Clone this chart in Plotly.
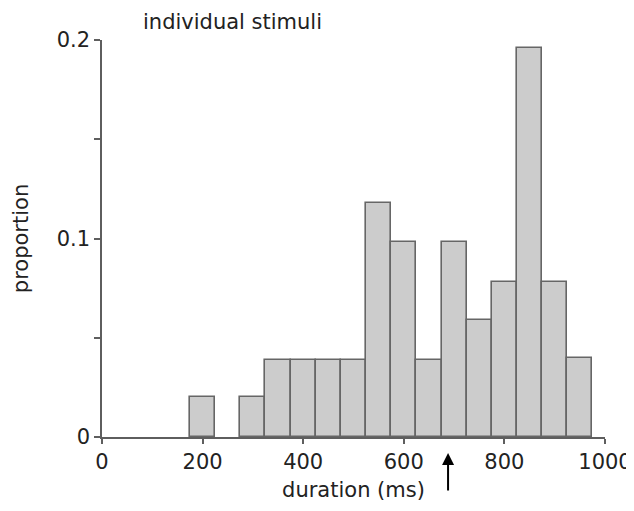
import plotly.graph_objects as go

# Histogram of durations (bin centres, ms) and proportions
bin_centers = [200, 300, 350, 400, 450, 500, 550, 600, 650, 700, 750, 800, 850, 900, 950]
proportions = [0.020, 0.020, 0.039, 0.039, 0.039, 0.039, 0.118, 0.098, 0.039,
               0.098, 0.059, 0.078, 0.196, 0.078, 0.040]
bin_width = 50
mean_marker = 688

x_ticks = [0, 200, 400, 600, 800, 1000]
y_ticks = [0, 0.05, 0.1, 0.15, 0.2]
y_tick_text = ["0", "", "0.1", "", "0.2"]

FONT = "DejaVu Sans, Liberation Sans, Arial, sans-serif"
TXT = "#222222"
AX = "#5e5e5e"
FS = 21

fig = go.Figure()
fig.add_trace(go.Bar(
    x=bin_centers, y=proportions, width=bin_width,
    marker=dict(color="#cccccc", line=dict(color="#666666", width=1.6)),
    showlegend=False, hoverinfo="x+y",
))

fig.update_layout(
    width=626, height=503,
    margin=dict(l=94, r=29, t=32, b=74),
    paper_bgcolor="white", plot_bgcolor="white",
    font=dict(family=FONT, size=FS, color=TXT),
    bargap=0,
    xaxis=dict(
        range=[0, 1000], tickvals=x_ticks, ticks="outside", ticklen=5, tickwidth=1.5,
        tickcolor=AX, showline=True, linecolor=AX, linewidth=1.5,
        showgrid=False, zeroline=False, automargin=False,
        title=dict(text="duration (ms)", standoff=9, font=dict(size=FS)),
        tickfont=dict(size=FS),
    ),
    yaxis=dict(
        range=[0, 0.2], tickvals=y_ticks, ticktext=y_tick_text, ticks="outside", ticklen=6,
        tickwidth=1.5, tickcolor=AX, showline=True, linecolor=AX, linewidth=1.5,
        showgrid=False, zeroline=False, automargin=False,
        title=dict(text="proportion", standoff=22, font=dict(size=FS)),
        tickfont=dict(size=FS),
    ),
    annotations=[
        dict(text="individual stimuli", xref="paper", yref="paper", x=0.078, y=1.045,
             xanchor="left", yanchor="middle", showarrow=False,
             font=dict(size=FS, family=FONT, color=TXT)),
        dict(text="", xref="x", yref="paper", x=mean_marker, y=-0.040,
             ax=0, ay=39, showarrow=True, arrowhead=2, arrowsize=1.2,
             arrowwidth=2, arrowcolor="black"),
    ],
)

fig.write_html("out.html")
